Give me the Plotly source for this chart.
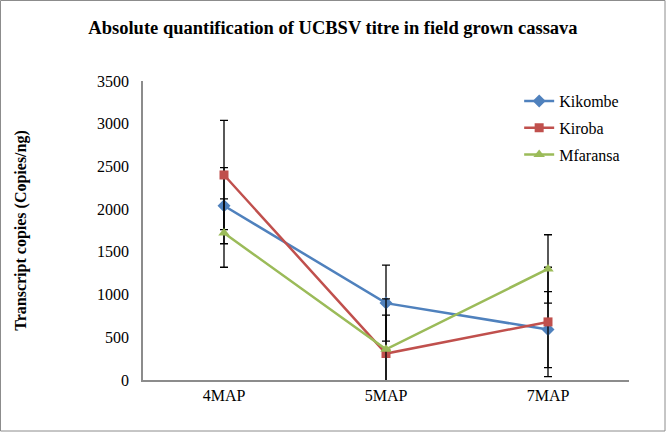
import plotly.graph_objects as go

categories = ["4MAP", "5MAP", "7MAP"]
kikombe = [2040, 900, 590]
kiroba = [2400, 310, 680]
mfaransa = [1720, 360, 1300]
err_kikombe = [445, 445, 445]
err_kiroba = [640, 640, 640]
err_mfaransa = [400, 400, 400]
y_ticks = [0, 500, 1000, 1500, 2000, 2500, 3000, 3500]

W, H = 666, 432
L, R, T, B = 143, 37, 81, 52
pw, ph = W - L - R, H - T - B

font = "Liberation Serif"

series = [
    ("Kikombe", kikombe, err_kikombe, "#4F81BD", "diamond", 10),
    ("Kiroba", kiroba, err_kiroba, "#C0504D", "square", 9),
    ("Mfaransa", mfaransa, err_mfaransa, "#9BBB59", "triangle-up", 10),
]

fig = go.Figure()
for name, vals, errs, col, sym, sz in series:
    fig.add_trace(go.Scatter(
        x=categories, y=vals, name=name, mode="lines+markers",
        legendgroup=name,
        line=dict(color=col, width=2.5),
        marker=dict(symbol=sym, size=sz, color=col),
        error_y=dict(type="data", array=errs, visible=True,
                     color="black", thickness=1.3, width=4),
    ))

fig.add_shape(type="rect", xref="paper", yref="paper",
              x0=(0.5 - L) / pw, x1=(W - 1 - L) / pw,
              y0=(H - B - (H - 1)) / ph, y1=(H - B - 0.5) / ph,
              line=dict(color="#8c8c8c", width=1), layer="below")

fig.update_layout(
    width=W, height=H,
    margin=dict(l=L, r=R, t=T, b=B),
    paper_bgcolor="white", plot_bgcolor="white",
    font=dict(family=font, size=16, color="black"),
    title=dict(text="<b>Absolute quantification of UCBSV titre in field grown cassava</b>",
               x=0.5, xanchor="center", y=1 - 28 / H, yanchor="middle",
               font=dict(family=font, size=18.5, color="black")),
    xaxis=dict(type="category", range=[-0.5, 2.5], showgrid=False,
               showline=True, linecolor="#8c8c8c", linewidth=1.5,
               ticks="", tickfont=dict(family=font, size=16), zeroline=False),
    yaxis=dict(range=[0, 3500], tickvals=y_ticks, showgrid=False,
               showline=True, linecolor="#8c8c8c", linewidth=1.5,
               ticks="", tickfont=dict(family=font, size=16), zeroline=False,
               ticklabelstandoff=9,
               title=dict(text="<b>Transcript copies (Copies/ng)</b>",
                          font=dict(family=font, size=16), standoff=66)),
    legend=dict(x=0.774, y=0.99, xanchor="left", yanchor="top",
                bgcolor="rgba(0,0,0,0)",
                font=dict(family="Liberation Serif, serif", size=16, color="black"),
                tracegroupgap=3, itemwidth=30),
    showlegend=True,
)

post = """
document.body.style.margin='0';document.body.style.padding='0';
document.querySelectorAll('.legendtext').forEach(function(t){
  t.style.fontFamily='"Liberation Serif", serif';
});
"""

fig.write_html("out.html", config={"displayModeBar": False}, post_script=post)
